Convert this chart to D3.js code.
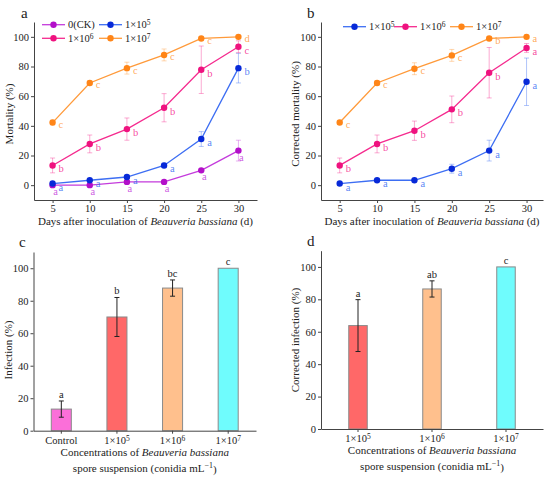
<!DOCTYPE html>
<html>
<head>
<meta charset="utf-8">
<script src="https://cdn.jsdelivr.net/npm/d3@7"></script>
<style>
  body { margin: 0; background: #fff; }
  text { font-family: "Liberation Serif", "Times New Roman", serif; fill: #222; }
</style>
</head>
<body>
<svg id="fig" width="550" height="479"></svg>
<script>
'use strict'

// ---- data ----
const days = [5, 10, 15, 20, 25, 30]

// panel a: mortality (%)
const mortCK = [0, 0, 2.2, 2.2, 10, 23.3]
const mortCKErr = [0, 0, 0, 0, 1, 7]
const mortCKSig = ['a', 'a', 'a', 'a', 'a', 'a']
const mort5 = [1.1, 3.3, 5.5, 13.3, 31.1, 78.9]
const mort5Err = [0.5, 0.5, 1, 1.5, 5, 10]
const mort5Sig = ['a', 'a', 'a', 'a', 'a', 'b']
const mort6 = [13.3, 27.8, 37.8, 52.2, 77.8, 93.3]
const mort6Err = [5, 6, 7.5, 9.5, 16, 4]
const mort6Sig = ['b', 'b', 'b', 'b', 'b', 'c']
const mort7 = [42.2, 68.9, 78.9, 87.8, 98.9, 100]
const mort7Err = [1.5, 1.5, 4, 4, 1, 0]
const mort7Sig = ['c', 'c', 'c', 'c', 'c', 'd']

// panel b: corrected mortality (%)
const corr5 = [1.1, 3.3, 3.3, 11.1, 23.3, 69.7]
const corr5Err = [0.5, 0.5, 0.5, 3, 7, 16]
const corr5Sig = ['a', 'a', 'a', 'a', 'a', 'a']
const corr6 = [13.3, 27.8, 36.7, 51.1, 75.8, 92.5]
const corr6Err = [5, 6, 6.5, 9, 17, 3]
const corr6Sig = ['b', 'b', 'b', 'b', 'b', 'a']
const corr7 = [42.2, 68.9, 78.5, 87.5, 98.9, 100]
const corr7Err = [1, 1.5, 4, 4, 1, 0]
const corr7Sig = ['c', 'c', 'c', 'c', 'b', 'a']

// panel c: infection (%)
const infGroups = ['Control', '5', '6', '7']
const infValues = [13.3, 70, 87.8, 100]
const infErr = [5, 12, 5, 0]
const infSig = ['a', 'b', 'bc', 'c']

// panel d: corrected infection (%)
const corrInfGroups = ['5', '6', '7']
const corrInfValues = [63.8, 86.4, 100]
const corrInfErr = [16, 5, 0]
const corrInfSig = ['a', 'ab', 'c']

const yTicks = [0, 20, 40, 60, 80, 100]

// ---- styles ----
const sty = {
  CK: { line: '#c43bdc', dot: '#b30fc9', label: '0(CK)' },
  e5: { line: '#3d6ef3', dot: '#0729d8', exp: '5' },
  e6: { line: '#f52a8e', dot: '#ef127f', exp: '6' },
  e7: { line: '#ff9a3a', dot: '#ff8517', exp: '7' }
}
const barFill = { Control: '#fb6fd9', '5': '#ff6868', '6': '#ffc08d', '7': '#6ffcfd' }

const svg = d3.select('#fig')

// writes "1×10" with a raised exponent into a text selection
function powLabel(sel, exp) {
  sel.text(null)
  sel.append('tspan').text('1×10')
  sel.append('tspan').attr('dy', '-0.45em').attr('font-size', '0.72em').text(exp)
}

function styleAxis(g) {
  g.attr('font-family', '"Liberation Serif", serif')
  g.selectAll('path, line').attr('stroke', '#444').attr('stroke-width', 1)
  g.selectAll('text').attr('font-size', '10.5px').attr('fill', '#222')
}

function yTitle(x, y, txt) {
  svg.append('text').attr('transform', `translate(${x},${y}) rotate(-90)`)
    .attr('text-anchor', 'middle').attr('font-size', '11px').text(txt)
}

function panelLabel(x, y, t) {
  svg.append('text').attr('x', x).attr('y', y).attr('font-size', '15px').text(t)
}

// ---- line panels ----
function linePanel(o) {
  const x = d3.scaleLinear().domain(o.xDomain).range([o.left, o.right])
  const y = d3.scaleLinear().domain([-10, 110]).range([o.bottom, o.top])
  const g = svg.append('g')

  g.append('g').attr('transform', `translate(0,${o.bottom})`)
    .call(d3.axisBottom(x).tickValues(days).tickSize(3).tickSizeOuter(0).tickPadding(2))
    .call(styleAxis)
  g.append('g').attr('transform', `translate(${o.left},0)`)
    .call(d3.axisLeft(y).tickValues(yTicks).tickSize(3).tickSizeOuter(0).tickPadding(2))
    .call(styleAxis)

  const line = d3.line().x((d, i) => x(days[i])).y(d => y(d))

  o.series.forEach(s => {
    const st = sty[s.key]
    const sg = g.append('g')
    // error bars
    s.vals.forEach((v, i) => {
      const e = s.err[i]
      if (!e) return
      const cx = x(days[i])
      const eb = sg.append('g').attr('stroke', st.line).attr('stroke-opacity', 0.4).attr('stroke-width', 1)
      eb.append('line').attr('x1', cx).attr('x2', cx).attr('y1', y(v - e)).attr('y2', y(v + e))
      eb.append('line').attr('x1', cx - 2.5).attr('x2', cx + 2.5).attr('y1', y(v - e)).attr('y2', y(v - e))
      eb.append('line').attr('x1', cx - 2.5).attr('x2', cx + 2.5).attr('y1', y(v + e)).attr('y2', y(v + e))
    })
    sg.append('path').datum(s.vals).attr('d', line)
      .attr('fill', 'none').attr('stroke', st.line).attr('stroke-width', 1.3)
    sg.selectAll('circle').data(s.vals).join('circle')
      .attr('cx', (d, i) => x(days[i])).attr('cy', d => y(d)).attr('r', 3.2)
      .attr('fill', st.dot)
    // significance letters: CK below the point, the rest to its lower right
    const below = s.key === 'CK'
    const dy = below ? 10 : (s.key === 'e7' ? 5.5 : 7)
    sg.selectAll('text.sig').data(s.sig).join('text').attr('class', 'sig')
      .attr('x', (d, i) => x(days[i]) + (below ? 3 : 6))
      .attr('y', (d, i) => y(s.vals[i]) + dy)
      .attr('text-anchor', below ? 'middle' : 'start')
      .attr('font-size', '10.5px').style('fill', st.line).attr('fill-opacity', 0.85)
      .text(d => d)
  })

  // legend
  o.legend.forEach(l => {
    const st = sty[l.key]
    const lg = g.append('g').attr('transform', `translate(${l.x},${l.y})`)
    lg.append('line').attr('x1', 0).attr('x2', 23).attr('stroke', st.line).attr('stroke-width', 1.3)
    lg.append('circle').attr('cx', 11.5).attr('r', 3.2).attr('fill', st.dot)
    const t = lg.append('text').attr('x', 26).attr('y', 3.6).attr('font-size', '10.5px')
    if (st.exp) powLabel(t, st.exp); else t.text(st.label)
  })

  yTitle(o.yTitleX, (o.top + o.bottom) / 2 + 3, o.yTitle)
  const xt = svg.append('text').attr('x', (o.left + o.right) / 2).attr('y', o.bottom + 25)
    .attr('text-anchor', 'middle').attr('font-size', '11px')
  xt.append('tspan').text('Days after inoculation of ')
  xt.append('tspan').attr('font-style', 'italic').text('Beauveria bassiana')
  xt.append('tspan').text(' (d)')
}

linePanel({
  left: 34, right: 257, top: 22, bottom: 200, xDomain: [2.5, 32.5],
  yTitle: 'Mortality (%)', yTitleX: 13,
  series: [
    { key: 'CK', vals: mortCK, err: mortCKErr, sig: mortCKSig },
    { key: 'e5', vals: mort5, err: mort5Err, sig: mort5Sig },
    { key: 'e6', vals: mort6, err: mort6Err, sig: mort6Sig },
    { key: 'e7', vals: mort7, err: mort7Err, sig: mort7Sig }
  ],
  legend: [
    { key: 'CK', x: 42, y: 24.7 }, { key: 'e5', x: 99, y: 24.7 },
    { key: 'e6', x: 42, y: 38.3 }, { key: 'e7', x: 99, y: 38.3 }
  ]
})

linePanel({
  left: 321, right: 543, top: 22, bottom: 200, xDomain: [2.5, 32.2],
  yTitle: 'Corrected mortality (%)', yTitleX: 299,
  series: [
    { key: 'e5', vals: corr5, err: corr5Err, sig: corr5Sig },
    { key: 'e6', vals: corr6, err: corr6Err, sig: corr6Sig },
    { key: 'e7', vals: corr7, err: corr7Err, sig: corr7Sig }
  ],
  legend: [
    { key: 'e5', x: 343, y: 26.7 }, { key: 'e6', x: 394, y: 26.7 }, { key: 'e7', x: 450, y: 26.7 }
  ]
})

// ---- bar panels ----
function barPanel(o) {
  const x = d3.scaleBand().domain(o.groups).range([o.left, o.right])
    .paddingInner(o.pad).paddingOuter(o.pad / 2)
  const y = d3.scaleLinear().domain([0, 110]).range([o.bottom, o.top])
  const g = svg.append('g')

  g.append('g').attr('transform', `translate(${o.left},0)`)
    .call(d3.axisLeft(y).tickValues(yTicks).tickSize(3).tickSizeOuter(0).tickPadding(2))
    .call(styleAxis)

  g.selectAll('rect').data(o.vals).join('rect')
    .attr('x', (d, i) => x(o.groups[i])).attr('width', x.bandwidth())
    .attr('y', d => y(d)).attr('height', d => y(0) - y(d))
    .attr('fill', (d, i) => barFill[o.groups[i]])
    .attr('stroke', '#8a8a8a').attr('stroke-width', 1)

  o.vals.forEach((v, i) => {
    const cx = x(o.groups[i]) + x.bandwidth() / 2
    const e = o.err[i]
    if (e) {
      const eb = g.append('g').attr('stroke', '#222').attr('stroke-width', 1)
      eb.append('line').attr('x1', cx).attr('x2', cx).attr('y1', y(v - e)).attr('y2', y(v + e))
      eb.append('line').attr('x1', cx - 2.5).attr('x2', cx + 2.5).attr('y1', y(v - e)).attr('y2', y(v - e))
      eb.append('line').attr('x1', cx - 2.5).attr('x2', cx + 2.5).attr('y1', y(v + e)).attr('y2', y(v + e))
    }
    g.append('text').attr('x', cx).attr('y', y(v + e) - 3)
      .attr('text-anchor', 'middle').attr('font-size', '10.5px').text(o.sig[i])
  })

  const xa = g.append('g').attr('transform', `translate(0,${o.bottom})`)
    .call(d3.axisBottom(x).tickSize(3).tickSizeOuter(0).tickPadding(3))
    .call(styleAxis)
  xa.selectAll('.tick text').each(function (d) {
    const t = d3.select(this)
    if (d !== 'Control') powLabel(t, d)
  })

  yTitle(o.yTitleX, o.yTitleY, o.yTitle)
  const cx = (o.left + o.right) / 2
  const t1 = svg.append('text').attr('x', cx).attr('y', o.bottom + 25)
    .attr('text-anchor', 'middle').attr('font-size', '11px')
  t1.append('tspan').text('Concentrations of ')
  t1.append('tspan').attr('font-style', 'italic').text('Beauveria bassiana')
  const t2 = svg.append('text').attr('x', cx).attr('y', o.bottom + 41)
    .attr('text-anchor', 'middle').attr('font-size', '11px')
  t2.append('tspan').text('spore suspension (conidia mL')
  t2.append('tspan').attr('dy', '-0.45em').attr('font-size', '0.72em').text('−1')
  t2.append('tspan').attr('dy', '0.45em').text(')')
}

barPanel({
  left: 33.5, right: 256, top: 252, bottom: 430.7, pad: 0.64,
  groups: infGroups, vals: infValues, err: infErr, sig: infSig,
  yTitle: 'Infection (%)', yTitleX: 12, yTitleY: 350
})

barPanel({
  left: 321, right: 543, top: 250.7, bottom: 429, pad: 0.75,
  groups: corrInfGroups, vals: corrInfValues, err: corrInfErr, sig: corrInfSig,
  yTitle: 'Corrected infection (%)', yTitleX: 299, yTitleY: 340
})

panelLabel(21, 18, 'a')
panelLabel(307, 18, 'b')
panelLabel(19, 247, 'c')
panelLabel(307, 246, 'd')
</script>
</body>
</html>
